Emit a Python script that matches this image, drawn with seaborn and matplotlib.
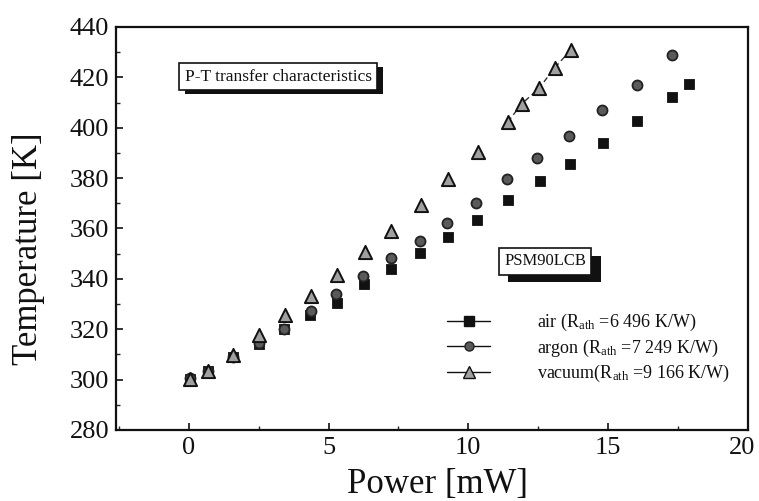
import numpy as np
import pandas as pd
import matplotlib
matplotlib.use("Agg")
import matplotlib.pyplot as plt
import matplotlib.patheffects as pe
import seaborn as sns
from matplotlib.lines import Line2D

# ---- data ----
power_air = [0.04, 0.68, 1.57, 2.5, 3.4, 4.33, 5.3, 6.26, 7.23, 8.26, 9.27, 10.3,
             11.41, 12.56, 13.63, 14.81, 16.03, 17.28, 17.89]
temp_air = [300.2, 303.4, 309.0, 314.1, 320.1, 325.6, 330.6, 338.0, 343.9, 350.4,
            356.7, 363.3, 371.5, 378.8, 385.8, 394.0, 402.6, 412.1, 417.2]

power_argon = [0.04, 0.68, 1.57, 2.5, 3.4, 4.36, 5.26, 6.23, 7.23, 8.26, 9.23, 10.27,
               11.38, 12.45, 13.6, 14.78, 16.03, 17.28]
temp_argon = [300.6, 303.4, 309.0, 314.5, 320.0, 327.2, 334.0, 341.1, 348.4, 355.0,
              362.1, 370.2, 379.6, 387.8, 396.7, 406.9, 416.9, 428.7]

power_vac = [0.04, 0.68, 1.57, 2.5, 3.43, 4.36, 5.3, 6.3, 7.23, 8.3, 9.27, 10.34,
             11.41, 11.91, 12.52, 13.09, 13.67]
temp_vac = [300.1, 303.4, 309.6, 317.6, 325.6, 333.2, 341.5, 350.8, 359.2, 369.3,
            379.5, 390.5, 402.3, 409.5, 415.6, 423.8, 431.0]

x_ticks = [0, 5, 10, 15, 20]
x_tick_labels = ["0", "5", "10", "15", "20"]
y_ticks = [280, 300, 320, 340, 360, 380, 400, 420, 440]

labels = [r"air (R$_{\rm ath}$ =6 496 K/W)",
          r"argon (R$_{\rm ath}$ =7 249 K/W)",
          r"vacuum(R$_{\rm ath}$ =9 166 K/W)"]
title_text = "P-T transfer characteristics"
device_text = "PSM90LCB"

sns.set_style("ticks")
plt.rcParams["font.family"] = ["Liberation Serif", "DejaVu Serif"]
plt.rcParams["mathtext.fontset"] = "custom"
plt.rcParams["mathtext.rm"] = "Liberation Serif"
plt.rcParams["mathtext.it"] = "Liberation Serif:italic"
plt.rcParams["mathtext.bf"] = "Liberation Serif:bold"

fig = plt.figure(figsize=(7.59, 5.01), dpi=100)
ax = fig.add_axes([116 / 759, 1 - 430 / 501, (748 - 116) / 759, (430 - 27) / 501])

df_air = pd.DataFrame({"Power": power_air, "Temp": temp_air})
df_arg = pd.DataFrame({"Power": power_argon, "Temp": temp_argon})
df_vac = pd.DataFrame({"Power": power_vac, "Temp": temp_vac})

# dashed connection visible on the upper vacuum points
sns.lineplot(data=df_vac.iloc[12:], x="Power", y="Temp", ax=ax, color="#333333",
             linestyle=(0, (4, 2.5)), linewidth=1.0, sort=False, legend=False)

sns.scatterplot(data=df_air, x="Power", y="Temp", ax=ax, marker="s", s=50,
                color="#111111", edgecolor="#111111", linewidth=0.6, legend=False, zorder=3)
sns.scatterplot(data=df_arg, x="Power", y="Temp", ax=ax, marker="o", s=52,
                color="#5a5a5a", edgecolor="#222222", linewidth=1.3, legend=False, zorder=3)
sns.scatterplot(data=df_vac, x="Power", y="Temp", ax=ax, marker="^", s=90,
                color="#a0a0a0", edgecolor="#111111", linewidth=1.4, legend=False, zorder=4)

ax.set_xlim(-2.6, 20)
ax.set_ylim(280, 440)
ax.set_xticks(x_ticks)
ax.set_xticklabels(x_tick_labels[:-1] + [""])
ax.set_xticks(np.arange(-2.5, 20, 2.5), minor=True)
ax.set_yticks(y_ticks)
ax.set_yticks(np.arange(290, 440, 20), minor=True)
ax.tick_params(axis="both", which="major", direction="in", length=5, width=1.2,
               labelsize=19, pad=5, colors="#111111")
ax.tick_params(axis="both", which="minor", direction="in", length=3, width=1.0)
for sp in ax.spines.values():
    sp.set_visible(True)
    sp.set_linewidth(1.6)
    sp.set_color("#111111")

# last x tick label nudged inward so it is not clipped at the figure edge
ax.text(19.78, -0.0172, x_tick_labels[-1], transform=ax.get_xaxis_transform(),
        ha="center", va="top", fontsize=19, color="#111111")

ax.set_xlabel("Power [mW]", fontsize=25, color="#111111")
ax.set_ylabel("Temperature [K]", fontsize=25, color="#111111")
ax.xaxis.set_label_coords(0.509, -0.095)
ax.yaxis.set_label_coords(-0.113, 0.45)

# legend
handles = [
    Line2D([], [], color="#111111", linewidth=1.0, marker="s", markersize=6.5,
           markerfacecolor="#111111", markeredgecolor="#111111"),
    Line2D([], [], color="#111111", linewidth=1.0, marker="o", markersize=6.5,
           markerfacecolor="#5a5a5a", markeredgecolor="#222222"),
    Line2D([], [], color="#111111", linewidth=1.0, marker="^", markersize=8.5,
           markerfacecolor="#a0a0a0", markeredgecolor="#111111"),
]
leg = ax.legend(handles, labels, loc="upper left",
                bbox_to_anchor=(438 / 759, 1 - 303 / 501), bbox_transform=fig.transFigure,
                frameon=False, fontsize=13, handlelength=2.4, handletextpad=2.6,
                labelspacing=0.25, borderpad=0.0)
for t in leg.get_texts():
    t.set_color("#111111")

# framed annotation boxes with drop shadows
def shadow_box(x, y, text, size, off):
    t = ax.text(x, y, text, fontsize=size, ha="center", va="center", color="#111111",
                zorder=6,
                bbox=dict(boxstyle="square,pad=0.32", facecolor="white",
                          edgecolor="#111111", linewidth=1.2))
    t.get_bbox_patch().set_path_effects(
        [pe.SimplePatchShadow(offset=off, shadow_rgbFace="#111111", alpha=1.0),
         pe.Normal()])

shadow_box(3.2, 420.2, title_text, 12.5, (4.3, -2.9))
shadow_box(12.74, 347.0, device_text, 12, (7.0, -5.5))

fig.savefig("out.png", dpi=100)
